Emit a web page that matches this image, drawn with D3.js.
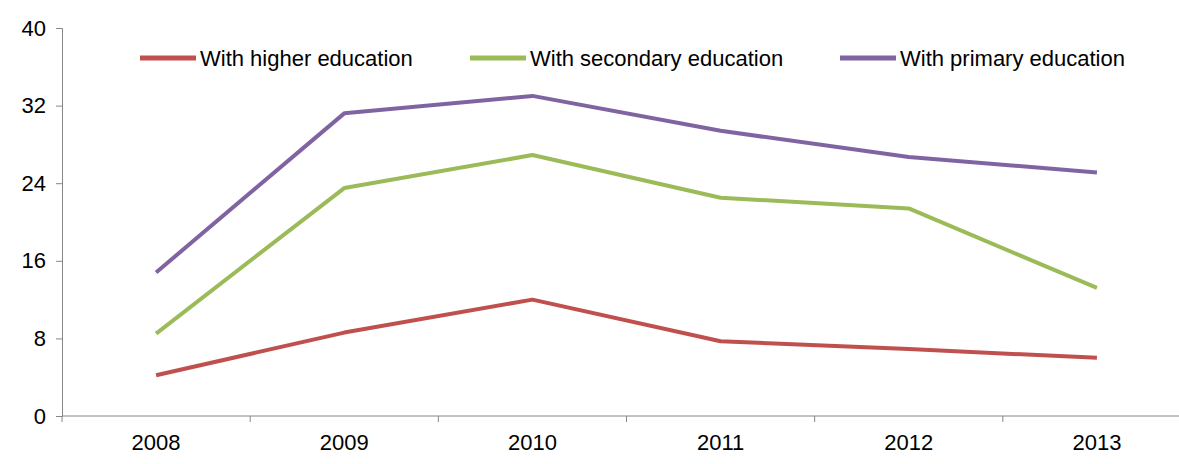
<!DOCTYPE html>
<html><head><meta charset="utf-8">
<script src="https://cdn.jsdelivr.net/npm/d3@7"></script>
<style>body{margin:0;background:#fff}text{font-family:"Liberation Sans",Arial,sans-serif}</style>
</head><body><div id="chart"></div>
<script>
const years = ["2008", "2009", "2010", "2011", "2012", "2013"];
const higher = [4.2, 8.6, 12.0, 7.7, 6.9, 6.0];
const secondary = [8.5, 23.5, 26.9, 22.5, 21.4, 13.2];
const primary = [14.8, 31.2, 33.0, 29.4, 26.7, 25.1];
const yTicks = [0, 8, 16, 24, 32, 40];

const series = [
  { name: "With higher education", values: higher, color: "#c0504d" },
  { name: "With secondary education", values: secondary, color: "#9bbb59" },
  { name: "With primary education", values: primary, color: "#8064a2" }
];

const W = 1179, H = 464;
const margin = { top: 28, right: -12, bottom: 48, left: 62 };
const width = W - margin.left - margin.right;
const height = H - margin.top - margin.bottom;

const svg = d3.select("#chart").append("svg").attr("width", W).attr("height", H)
  .append("g").attr("transform", `translate(${margin.left},${margin.top})`);

const x = d3.scaleBand().domain(years).range([0, width]);
const y = d3.scaleLinear().domain([0, 40]).range([height, 0]);

// y axis
const yAxis = svg.append("g").call(d3.axisLeft(y).tickValues(yTicks).tickSize(6).tickPadding(10));
yAxis.selectAll("text").style("font-size", "22px").attr("fill", "#000");
yAxis.selectAll("line,path").attr("stroke", "#868686");

// x axis with ticks at band edges
const xg = svg.append("g").attr("transform", `translate(0,${height})`);
xg.append("line").attr("x1", 0).attr("x2", width).attr("stroke", "#868686");
xg.selectAll(".tk").data(years.concat(["end"])).enter().append("line")
  .attr("x1", (d, i) => i * x.bandwidth()).attr("x2", (d, i) => i * x.bandwidth())
  .attr("y1", 0).attr("y2", 6).attr("stroke", "#868686");
xg.selectAll(".lb").data(years).enter().append("text")
  .attr("x", d => x(d) + x.bandwidth() / 2).attr("y", 34)
  .attr("text-anchor", "middle").style("font-size", "22px").text(d => d);

const line = d3.line().x((d, i) => x(years[i]) + x.bandwidth() / 2).y(d => y(d));
svg.selectAll(".series").data(series).enter().append("path")
  .attr("d", d => line(d.values)).attr("fill", "none")
  .attr("stroke", d => d.color).attr("stroke-width", 4).attr("stroke-linejoin", "round");

// legend
const legX = [78, 408, 778];
const leg = svg.selectAll(".leg").data(series).enter().append("g")
  .attr("transform", (d, i) => `translate(${legX[i]},30)`);
leg.append("line").attr("x1", 0).attr("x2", 56).attr("stroke", d => d.color).attr("stroke-width", 5);
leg.append("text").attr("x", 60).attr("y", 8).style("font-size", "22px").text(d => d.name);
</script></body></html>
